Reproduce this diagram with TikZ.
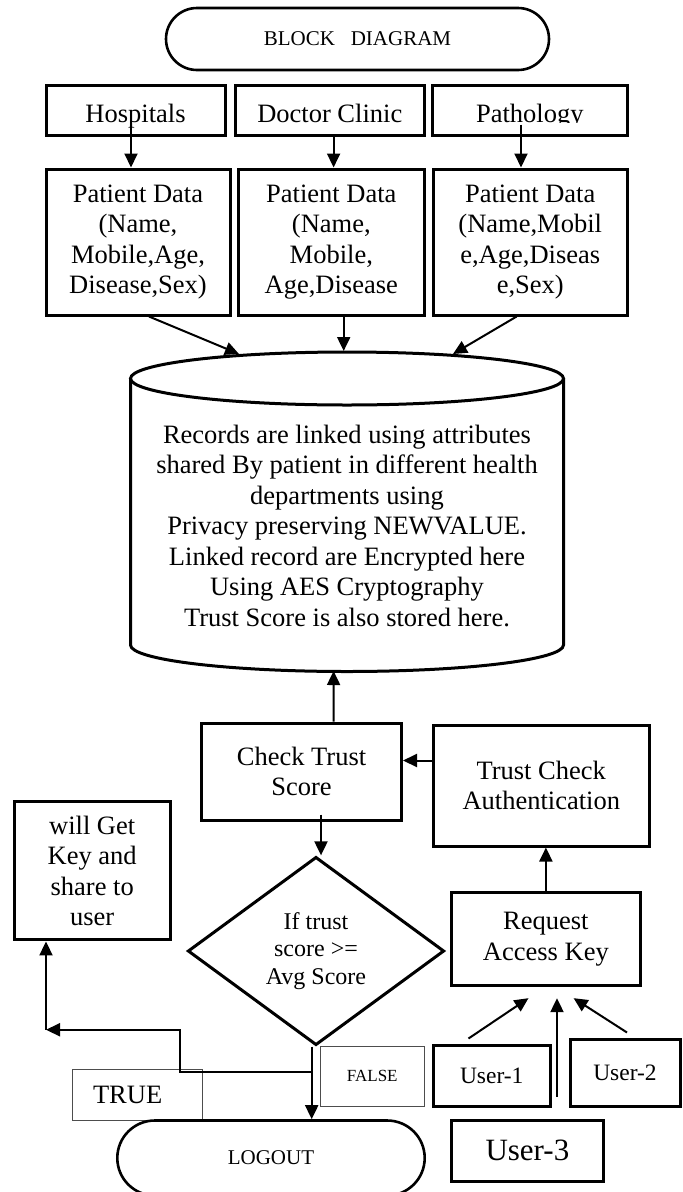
\documentclass[tikz,border=0pt]{standalone}
\usepackage{fontspec}
\setmainfont{Liberation Serif}
\usetikzlibrary{shapes.geometric,shapes.misc,calc,arrows.meta}
\definecolor{ink}{HTML}{000000}
\definecolor{frame}{HTML}{4D4D4D}

\begin{document}
\begin{tikzpicture}[x=1pt,y=-1pt]

  % Default font and shared looks
  \tikzset{
    every node/.style={font=\fontsize{26.5}{30.5}\selectfont, inner sep=0pt},
    box/.style={draw=ink, line width=3pt, rectangle, align=center},
    source/.style={box, minimum height=50pt, text height=26pt, text depth=2pt},
    terminal/.style={draw=ink, line width=2.6pt, rounded rectangle, font=\fontsize{21}{24}\selectfont},
    flowline/.style={draw=ink, line width=2pt, -{Triangle[length=14pt,width=13pt]}},
    tag/.style={draw=frame, line width=0.8pt, rectangle}
  }

  \useasboundingbox (0,0) rectangle (683,1192);

  % Title
  \node[terminal, minimum width=383pt, minimum height=62pt] (title) at (357.5,39) {BLOCK\ \ \ DIAGRAM};

  % Sources
  \node[source, minimum width=179pt] (hosp) at (135.5,110) {Hospitals};
  \node[source, minimum width=188.5pt] (doc) at (329.75,110) {Doctor Clinic};
  \node[source, minimum width=194.5pt] (patho) at (529.75,110) {};
  \begin{scope}
    \clip (432.5,80) rectangle (627,122);
    \node[text height=26pt, text depth=2pt] (pathotext) at (529.75,110) {Pathology};
  \end{scope}

  % Patient data
  \node[box, minimum width=184pt, minimum height=146pt] (pd1) at (138,242) {Patient Data\\(Name,\\Mobile,Age,\\Disease,Sex)};
  \node[box, minimum width=185.4pt, minimum height=146pt] (pd2) at (331.3,242) {Patient Data\\(Name,\\Mobile,\\Age,Disease};
  \node[box, minimum width=193.5pt, minimum height=146pt] (pd3) at (530.25,242) {Patient Data\\(Name,Mobil\\e,Age,Diseas\\e,Sex)};

  \draw[flowline] ($(hosp.south)+(-4.5,-13)$) -- ($(pd1.north)+(-7,0)$);
  \draw[flowline] ($(doc.south)+(3.85,0)$) -- ($(pd2.north)+(2.3,0)$);
  \draw[flowline] ($(patho.south)+(-8.75,-12)$) -- ($(pd3.north)+(-9.25,0)$);

  % Database
  \draw[draw=ink, line width=3pt] (130.5,378.5) -- (130.5,645) arc[start angle=180, end angle=0, x radius=216.5, y radius=26.5] -- (563.5,378.5);
  \draw[draw=ink, line width=3pt] (347,378.5) ellipse[x radius=216.5, y radius=26.5];
  \node[align=center] (records) at (347,525.5) {Records are linked using attributes\\shared By patient in different health\\departments using\\Privacy preserving NEWVALUE.\\Linked record are Encrypted here\\Using AES Cryptography\\Trust Score is also stored here.};
  \coordinate (dbin1) at (239,354);
  \coordinate (dbin2) at (343.7,351);
  \coordinate (dbin3) at (453,354);
  \coordinate (dbout) at (333.6,671);

  \draw[flowline] ($(pd1.south)+(11,0)$) -- (dbin1);
  \draw[flowline] ($(pd2.south)+(12.4,0)$) -- (dbin2);
  \draw[flowline] ($(pd3.south)+(-13.6,0)$) -- (dbin3);

  % Trust check
  \node[box, minimum width=200pt, minimum height=97pt] (check) at (301.5,771.5) {Check Trust\\Score};
  \node[box, minimum width=215.5pt, minimum height=121pt] (tca) at (541.25,785.5) {Trust Check\\Authentication};
  \node[box, minimum width=155.6pt, minimum height=138.3pt, font=\fontsize{26.5}{30.3}\selectfont] (willget) at (92.2,870.8) {will Get\\Key and\\share to\\user};
  \node[draw=ink, line width=3pt, diamond, minimum width=256.4pt, minimum height=188.3pt, align=center, font=\fontsize{24}{27.5}\selectfont] (dec) at (316,951) {If trust\\score >=\\Avg Score};
  \node[box, minimum width=188.2pt, minimum height=92.7pt] (rak) at (545.9,939.3) {Request\\Access Key};

  \draw[flowline] ($(check.north)+(32,0)$) -- (dbout);
  \coordinate (tcain) at ($(tca.west)+(0,-25)$);
  \draw[flowline] (tcain) -- (tcain -| check.east);
  \draw[flowline] ($(check.south)+(19.5,-7)$) -- ($(dec.north)+(5,0)$);
  \draw[flowline] (rak.north) -- (rak.north |- tca.south);

  % Users
  \node[box, minimum width=116.5pt, minimum height=61pt, font=\fontsize{23.5}{27}\selectfont] (u1) at (491.75,1076.2) {User-1};
  \node[box, minimum width=110pt, minimum height=67.7pt, font=\fontsize{23.5}{27}\selectfont] (u2) at (625,1072.85) {User-2};
  \node[box, minimum width=151.2pt, minimum height=61.7pt, font=\fontsize{31}{35}\selectfont] (u3) at (527.4,1150.85) {User-3};

  \draw[flowline] ($(u1.north)+(-23.25,-5.7)$) -- ($(rak.south)+(-17.4,11)$);
  \draw[flowline] ($(u3.north)+(29.6,-22)$) -- ($(rak.south)+(11.1,11)$);
  \draw[flowline] ($(u2.north)+(2,-5)$) -- ($(rak.south)+(27.7,11)$);

  % Outcomes
  \node[tag, minimum width=130pt, minimum height=51pt, text width=88pt, inner xsep=21pt, align=left] (truebox) at (137,1094.5) {TRUE};
  \node[tag, minimum width=103.5pt, minimum height=59.3pt, font=\fontsize{17}{20}\selectfont] (falsebox) at (372.25,1076.35) {FALSE};
  \node[terminal, minimum width=307.4pt, minimum height=75pt] (logout) at (271,1158) {LOGOUT};

  \coordinate (dfoot) at ($(dec.south)+(-4.3,0)$);
  \coordinate (tbranch) at ($(dfoot)+(0,25)$);
  \coordinate (tcorner) at ($(willget.south)+(-46.2,88.3)$);
  \draw[flowline] (dfoot) -- (dfoot |- logout.north);
  \draw[flowline] (tbranch) -- ++(-132.2,0) |- (tcorner);
  \draw[flowline] (tcorner) -- (willget.south -| tcorner);

\end{tikzpicture}
\end{document}
